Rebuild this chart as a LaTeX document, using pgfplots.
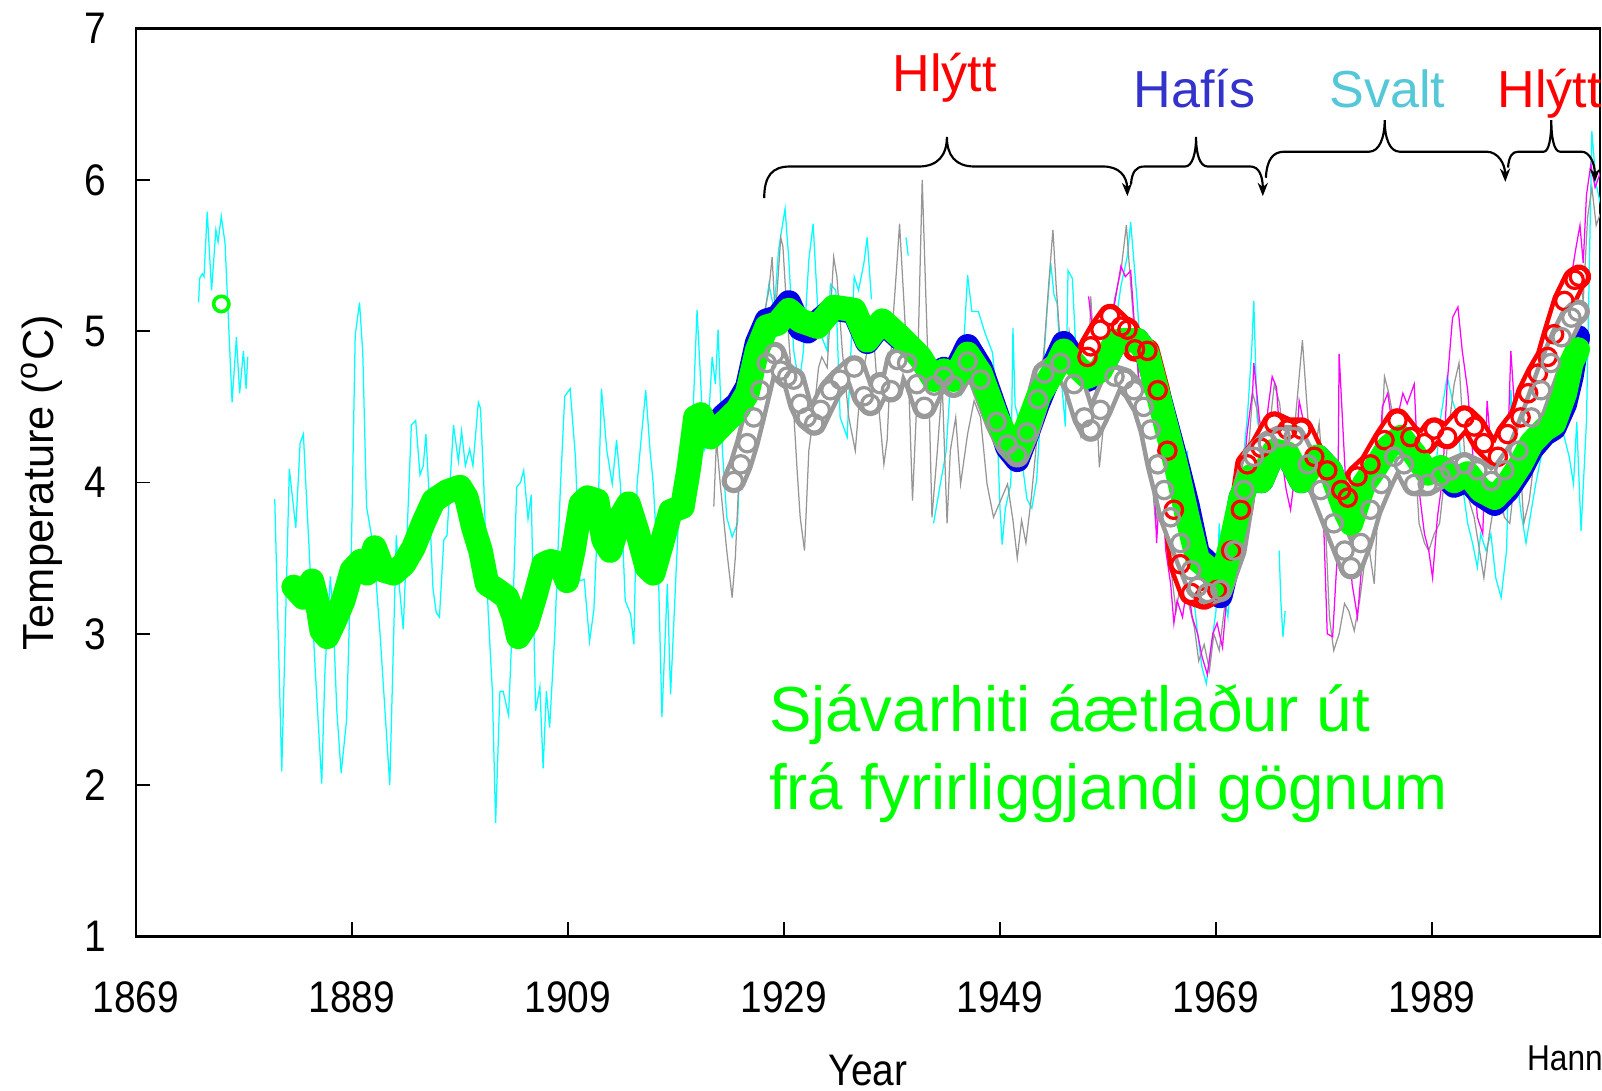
\documentclass[border=0pt]{standalone}
\usepackage{fontspec}
\setmainfont{Liberation Sans}
\newfontfamily\narrowfont{Liberation Sans}[FakeStretch=0.88]
\usepackage{pgfplots}
\usepackage{pgfplotstable}
\pgfplotsset{compat=1.18}
\usetikzlibrary{arrows.meta}

\definecolor{cy}{RGB}{0,255,255}
\definecolor{gl}{RGB}{150,150,150}
\definecolor{mg}{RGB}{255,0,255}
\definecolor{bl}{RGB}{0,0,230}
\definecolor{gc}{RGB}{153,153,153}
\definecolor{rd}{RGB}{255,0,0}
\definecolor{gr}{RGB}{0,255,0}
\definecolor{haf}{RGB}{51,51,204}
\definecolor{sva}{RGB}{85,200,216}

% thin lines
\pgfplotstableread{
x y
1874.8 5.19
1874.9 5.35
1875.15 5.38
1875.3 5.36
1875.6 5.79
1876.0 5.27
1876.4 5.67
1876.6 5.59
1876.9 5.76
1877.25 5.58
1877.9 4.53
1878.3 4.96
1878.6 4.59
1878.95 4.87
1879.2 4.62
1879.35 4.83
1880 nan
1881.85 3.89
1882.5 2.09
1883.2 4.09
1883.8 3.70
1884.2 4.26
1884.5 4.32
1884.8 3.89
1885.6 2.76
1886.2 2.01
1886.5 2.76
1887.0 3.38
1887.3 3.03
1887.6 2.49
1888.0 2.08
1888.5 2.43
1888.95 3.57
1889.3 4.97
1889.7 5.19
1890.0 4.86
1890.35 3.84
1891.0 3.57
1891.6 3.0
1892.5 2.0
1893.1 3.65
1893.4 3.30
1893.75 3.03
1894.05 3.57
1894.5 4.38
1894.9 4.41
1895.3 4.05
1895.6 4.11
1895.85 4.32
1896.1 3.97
1896.5 3.30
1896.8 3.14
1897.1 3.11
1897.5 3.62
1897.8 3.65
1898.4 4.38
1898.85 4.14
1899.15 4.34
1899.5 4.11
1899.9 4.22
1900.2 4.11
1900.7 4.53
1900.9 4.49
1901.2 4.0
1901.6 3.16
1902.0 2.62
1902.3 1.75
1902.7 2.62
1903.0 2.62
1903.5 2.46
1903.9 3.16
1904.25 3.97
1904.6 4.0
1904.9 4.08
1905.3 3.76
1905.6 3.92
1906.0 2.49
1906.4 2.65
1906.7 2.11
1907.0 2.62
1907.3 2.38
1907.8 3.03
1908.3 3.97
1908.7 4.57
1909.2 4.62
1909.7 4.16
1910.1 3.35
1910.5 3.36
1911.0 2.95
1911.4 3.16
1911.8 3.84
1912.1 4.62
1912.6 4.21
1913.1 3.99
1913.5 4.28
1913.85 3.99
1914.3 3.22
1914.8 3.13
1915.1 2.93
1915.4 3.99
1915.7 4.23
1916.2 4.61
1916.6 4.21
1916.9 3.99
1917.4 3.33
1917.7 2.45
1918.2 3.33
1918.5 2.6
1919.1 3.55
1919.6 4.32
1920.0 4.21
1920.5 4.32
1920.95 5.14
1921.3 4.65
1921.6 4.21
1921.9 4.26
1922.35 4.83
1922.65 4.65
1922.9 5.01
1923.3 4.21
1923.7 3.77
1924.2 3.64
1924.7 3.73
1925.0 4.30
1925.3 4.65
1925.7 4.79
1926.2 5.01
1926.7 4.76
1927.1 5.05
1927.6 5.31
1928.1 5.14
1928.5 5.54
1929.1 5.81
1929.45 5.47
1929.9 4.87
1930.4 4.65
1930.8 4.87
1931.3 5.47
1931.7 5.71
1932.1 5.18
1932.5 4.96
1933.0 4.87
1933.3 5.31
1933.8 5.27
1934.2 4.43
1934.85 4.30
1935.5 5.36
1935.9 5.27
1936.4 5.45
1936.7 5.62
1937.1 5.21
1937.5 nan
1940.3 5.62
1940.5 5.5
1940.7 nan
1942.85 3.73
1943.5 4.0
1944.0 4.2
1944.4 4.64
1944.9 4.80
1945.4 4.6
1946.0 5.37
1946.4 5.13
1947.0 5.13
1947.6 4.99
1948.3 4.86
1948.6 4.64
1949.0 3.83
1949.2 3.59
1949.5 3.83
1950.0 3.99
1950.2 5.02
1950.4 4.51
1950.9 4.37
1951.2 4.05
1951.5 3.89
1951.95 3.83
1952.4 4.02
1952.9 4.64
1953.35 5.13
1953.7 5.45
1954.0 5.24
1954.3 5.18
1954.6 4.75
1955.05 4.37
1955.3 5.40
1955.7 5.35
1956.0 4.91
1956.4 4.54
1956.75 4.32
1957.05 4.64
1957.5 5.05
1958.0 4.91
1958.45 4.51
1959.0 4.8
1959.6 5.0
1960.2 5.3
1960.8 5.5
1961.1 5.72
1961.7 5.20
1962.2 4.65
1962.65 4.32
1963.3 4.43
1963.9 3.99
1964.35 3.77
1964.65 4.26
1965.0 3.60
1965.4 3.99
1965.9 3.55
1966.35 4.21
1966.8 3.33
1967.3 3.0
1967.7 2.78
1968.1 2.67
1968.5 2.89
1969.0 3.15
1969.3 3.73
1969.6 3.33
1970.1 3.11
1970.5 3.55
1971.0 3.77
1971.45 4.10
1971.9 4.43
1972.3 4.87
1972.5 5.20
1972.8 4.43
1973.3 4.21
1973.8 3.99
1974.2 nan
1974.85 3.55
1975.0 3.22
1975.2 2.98
1975.4 3.15
1975.6 nan
1989.2 3.99
1989.8 4.43
1990.4 4.70
1990.9 4.54
1991.4 4.43
1991.8 3.99
1992.3 3.73
1992.75 3.60
1993.2 3.44
1993.5 3.66
1994.0 3.55
1994.45 3.66
1994.9 3.37
1995.4 3.24
1995.9 3.55
1996.3 4.61
1996.8 4.10
1997.2 3.82
1997.7 3.60
1998.2 3.82
1998.6 3.99
1999.1 4.17
1999.7 4.32
2000.3 4.54
2000.8 4.39
2001.25 4.30
2001.7 4.17
2002.1 3.99
2002.4 4.4
2002.8 3.68
2003.3 4.4
2003.8 6.32
2004.2 5.97
2004.6 5.84
}\cyanline

\pgfplotstableread{
x y
1922.5 3.84
1922.75 4.28
1923.1 3.99
1923.4 3.77
1923.7 3.55
1924.2 3.24
1924.5 3.51
1924.8 3.99
1925.3 4.26
1925.9 4.48
1926.5 4.65
1927.1 5.09
1927.6 5.27
1927.9 5.49
1928.2 5.09
1928.7 5.62
1928.9 5.56
1929.3 5.09
1929.75 4.65
1930.2 4.10
1930.5 3.77
1930.9 3.55
1931.3 4.21
1931.8 4.48
1932.2 4.76
1932.5 4.83
1933.0 4.76
1933.6 5.49
1933.9 5.36
1934.4 4.87
1935.0 4.43
1935.6 4.21
1936.1 4.65
1936.7 4.87
1937.3 4.96
1937.8 4.48
1938.25 4.12
1938.55 4.28
1939.0 4.98
1939.5 5.49
1939.7 5.71
1940.1 5.20
1940.6 4.54
1940.9 3.88
1941.3 4.54
1941.6 5.42
1941.8 6.0
1942.1 5.31
1942.4 4.65
1942.7 3.77
1943.2 4.21
1943.65 4.65
1944.1 3.73
1944.4 4.21
1944.9 4.43
1945.35 3.99
1946.0 4.32
1946.6 4.54
1947.2 4.43
1947.8 3.99
1948.4 3.77
1949.05 3.88
1949.7 3.99
1950.2 3.75
1950.6 3.5
1951.0 3.75
1951.4 3.6
1951.9 3.9
1952.3 4.2
1952.7 4.6
1953.1 4.9
1953.5 5.3
1953.9 5.67
1954.2 5.3
1954.6 4.9
1955.0 4.6
1955.4 5.0
1955.8 4.8
1956.2 4.4
1956.5 4.30
1957.1 4.43
1957.4 5.23
1957.7 4.87
1958.2 4.10
1958.6 4.39
1959.1 4.87
1959.6 5.21
1960.2 5.40
1960.7 5.70
1961.1 5.31
1961.6 4.87
1962.0 4.54
1962.5 4.26
1963.0 4.10
1963.4 3.73
1963.9 3.99
1964.3 3.73
1964.8 3.44
1965.3 3.15
1965.7 3.33
1966.4 3.22
1967.0 3.04
1967.4 2.82
1967.9 2.93
1968.4 2.76
1968.8 3.0
1969.3 2.89
1969.75 3.15
1970.2 3.42
1970.7 3.66
1971.2 3.95
1971.6 3.99
1972.1 4.30
1972.4 4.59
1972.8 4.48
1973.3 4.19
1973.8 4.26
1974.4 4.65
1974.9 4.52
1975.3 4.21
1975.8 4.04
1976.2 4.30
1976.7 4.70
1977.0 4.94
1977.5 4.43
1978.1 4.17
1978.55 4.39
1979.0 3.95
1979.5 3.11
1979.9 2.89
1980.4 3.0
1980.9 3.20
1981.3 3.15
1981.8 3.02
1982.3 3.22
1982.7 3.44
1983.2 3.55
1983.65 3.33
1984.1 3.99
1984.6 4.70
1985.0 4.59
1985.5 4.39
1986.0 4.10
1986.4 4.21
1986.9 4.39
1987.35 4.26
1987.8 3.73
1988.3 3.60
1988.7 3.55
1989.2 3.66
1989.7 3.73
1990.1 3.99
1990.6 4.39
1991.05 4.65
1991.5 4.79
1992.0 4.21
1992.45 3.88
1992.9 3.77
1993.4 3.55
1993.8 3.37
1994.3 3.66
1994.8 3.88
1995.2 3.95
1995.7 3.77
1996.2 3.73
1996.6 3.99
1997.1 4.21
1997.5 3.73
1998.0 3.88
1998.5 4.17
1998.9 4.43
1999.4 4.65
1999.9 4.98
2000.3 4.65
2000.8 5.09
2001.3 5.20
2001.7 4.98
2002.2 5.27
2002.6 5.40
2003.0 5.2
2003.4 5.75
2003.8 5.95
2004.2 5.7
2004.7 5.8
}\grayline

\pgfplotstableread{
x y
1957.2 5.23
1957.5 5.05
1957.9 4.81
1958.3 4.87
1958.9 5.09
1959.6 5.18
1960.2 5.43
1960.6 5.36
1961.1 5.40
1961.4 5.09
1961.9 4.65
1962.3 4.32
1962.8 4.26
1963.3 3.99
1963.5 3.60
1963.9 4.10
1964.35 3.55
1964.8 3.33
1965.1 3.07
1965.4 3.22
1965.9 3.11
1966.35 3.33
1966.8 3.11
1967.3 3.0
1967.7 2.85
1968.2 2.73
1968.7 3.0
1969.1 3.07
1969.6 2.91
1970.1 3.33
1970.5 3.55
1971.0 3.88
1971.45 3.99
1971.9 4.34
1972.4 4.61
1972.5 4.79
1973.0 4.43
1973.5 4.21
1973.8 4.48
1974.2 4.70
1974.6 4.63
1975.0 4.21
1975.5 3.95
1975.9 3.82
1976.2 3.99
1976.7 4.54
1977.2 4.37
1977.8 4.17
1978.1 4.32
1978.55 4.21
1979.0 3.66
1979.3 3.0
1979.8 2.98
1980.25 3.55
1980.4 4.85
1980.7 4.43
1981.2 3.73
1981.6 3.33
1982.1 3.11
1982.6 3.55
1983.0 3.77
1983.5 3.66
1984.0 3.99
1984.4 4.50
1984.9 4.59
1985.3 4.39
1985.8 4.43
1986.3 4.59
1986.7 4.52
1987.35 4.65
1987.8 3.95
1988.3 3.66
1988.7 3.55
1989.05 3.37
1989.5 3.77
1990.0 4.04
1990.4 4.65
1990.9 5.09
1991.4 5.16
1991.8 4.87
1992.3 4.61
1992.75 4.21
1993.2 3.77
1993.7 3.66
1994.1 4.54
1994.6 4.10
1995.1 3.99
1995.5 3.82
1996.0 4.21
1996.3 4.87
1996.8 4.32
1997.2 3.99
1997.7 4.32
1998.2 4.61
1998.6 4.43
1999.1 4.61
1999.55 4.87
2000.0 4.98
2000.5 4.83
2000.9 5.32
2001.4 5.05
2001.9 5.36
2002.3 5.54
2002.7 5.7
2003.0 5.45
2003.3 5.9
2003.7 6.1
2004.1 5.95
2004.6 6.05
}\magline

% smoothed series (circles)
\pgfplotstableread{
x y
1922.2 4.34
1923.4 4.44
1924.7 4.52
1925.6 4.63
1926.5 4.92
1927.4 5.07
1928.4 5.09
1929.45 5.19
1930.5 5.02
1931.2 5.00
1932.1 5.06
1933.6 5.15
1935.5 5.13
1936.7 4.93
1938.1 5.06
1939.8 4.95
1941.6 4.82
1942.9 4.67
1943.8 4.75
1944.7 4.71
1946.0 4.90
1947.2 4.76
1948.7 4.45
1949.7 4.23
1950.6 4.15
1951.5 4.32
1952.5 4.52
1954.0 4.78
1954.9 4.92
1956.2 4.78
1957.1 4.68
1958.3 4.74
1959.6 4.92
1960.2 4.94
1961.7 4.94
1962.65 4.85
1963.6 4.60
1964.5 4.36
1965.4 4.12
1966.35 3.85
1967.3 3.53
1968.5 3.45
1969.4 3.25
1970.4 3.55
1971.3 3.90
1972.2 4.04
1973.2 4.01
1974.4 4.21
1975.6 4.19
1976.9 4.01
1978.4 4.17
1979.6 4.08
1980.9 3.82
1981.5 3.73
1982.7 3.99
1983.6 4.08
1984.9 4.23
1986.1 4.30
1987.35 4.19
1988.6 4.05
1989.8 4.08
1991.05 3.98
1992.3 4.02
1993.5 3.92
1994.8 3.86
1996.0 3.95
1997.2 4.08
1998.2 4.22
1999.4 4.32
2000.3 4.36
2001.3 4.52
2001.9 4.70
2002.5 4.96
}\bluecirc

\pgfplotstableread{
x y
1924.35 4.01
1925.0 4.12
1925.6 4.26
1926.2 4.43
1926.8 4.61
1927.4 4.79
1928.1 4.85
1928.7 4.74
1929.3 4.70
1929.9 4.68
1930.5 4.52
1931.1 4.43
1931.8 4.39
1932.4 4.48
1933.3 4.61
1934.2 4.68
1935.5 4.76
1936.4 4.57
1937.0 4.52
1937.9 4.65
1938.9 4.61
1939.5 4.81
1940.4 4.79
1941.3 4.65
1942.0 4.50
1942.9 4.64
1943.8 4.70
1944.7 4.64
1946.0 4.80
1947.2 4.68
1948.7 4.40
1949.7 4.25
1950.6 4.18
1951.5 4.33
1952.5 4.55
1953.1 4.72
1954.6 4.79
1955.85 4.65
1956.8 4.43
1957.4 4.35
1958.3 4.48
1959.6 4.70
1960.5 4.68
1961.4 4.61
1962.3 4.50
1962.95 4.35
1963.6 4.12
1964.2 3.95
1964.8 3.77
1965.7 3.60
1966.7 3.42
1967.3 3.31
1968.2 3.27
1969.4 3.29
1970.7 3.55
1971.6 3.95
1972.5 4.17
1973.8 4.26
1975.0 4.30
1976.2 4.30
1977.5 4.12
1978.7 3.95
1979.9 3.73
1980.9 3.55
1981.5 3.44
1982.4 3.60
1983.3 3.82
1984.3 3.99
1985.5 4.17
1986.4 4.12
1987.35 3.99
1988.6 3.99
1989.8 4.04
1990.7 4.08
1992.0 4.12
1993.2 4.08
1994.5 4.01
1995.7 4.08
1997.0 4.21
1998.2 4.43
1999.1 4.61
2000.0 4.79
2001.0 4.96
2001.9 5.09
2002.5 5.13
}\graycirc

\pgfplotstableread{
x y
1957.1 4.83
1957.4 4.90
1958.3 5.01
1959.2 5.10
1960.2 5.03
1960.8 5.01
1961.5 4.88
1962.65 4.87
1963.6 4.61
1964.5 4.21
1965.1 3.82
1965.7 3.46
1966.7 3.27
1967.9 3.24
1969.1 3.29
1970.4 3.55
1971.3 3.82
1971.9 4.12
1973.15 4.23
1974.4 4.39
1975.6 4.35
1976.9 4.35
1978.1 4.17
1979.3 4.08
1980.6 3.95
1981.2 3.90
1982.1 4.04
1983.3 4.12
1984.6 4.28
1985.8 4.41
1987.0 4.30
1988.3 4.26
1989.2 4.35
1990.4 4.30
1992.0 4.43
1992.9 4.37
1993.8 4.26
1995.1 4.17
1996.0 4.32
1997.2 4.43
1997.9 4.59
1998.8 4.72
1999.7 4.83
2000.3 4.98
2001.25 5.20
2002.2 5.34
2002.6 5.36
}\redcirc

\pgfplotstableread{
x y
1883.6 3.31
1884.5 3.24
1885.3 3.35
1885.75 3.22
1886.2 3.02
1886.7 2.98
1887.3 3.07
1888.2 3.22
1889.0 3.42
1889.8 3.48
1890.4 3.40
1891.1 3.57
1891.9 3.42
1892.85 3.40
1893.8 3.46
1894.7 3.57
1895.6 3.73
1896.55 3.88
1897.8 3.94
1899.0 3.97
1899.6 3.90
1900.25 3.70
1900.9 3.55
1901.5 3.33
1902.4 3.29
1903.35 3.24
1904.0 3.11
1904.4 2.98
1905.2 3.07
1906.0 3.26
1906.75 3.46
1907.4 3.48
1908.3 3.46
1908.9 3.35
1909.5 3.55
1910.2 3.86
1910.8 3.90
1911.7 3.88
1912.3 3.62
1912.9 3.55
1913.85 3.77
1914.6 3.86
1915.4 3.68
1916.3 3.44
1916.9 3.40
1917.7 3.60
1918.5 3.81
1919.6 3.84
1920.2 4.10
1920.8 4.43
1921.3 4.45
1922.2 4.30
1923.4 4.39
1924.7 4.48
1925.6 4.59
1926.5 4.87
1927.4 5.03
1928.4 5.05
1929.45 5.14
1930.5 5.07
1932.1 5.03
1933.6 5.16
1935.5 5.14
1936.7 4.94
1938.1 5.07
1939.8 4.96
1941.6 4.83
1942.9 4.68
1943.8 4.74
1944.7 4.68
1946.0 4.85
1947.2 4.72
1948.7 4.43
1949.7 4.28
1950.6 4.21
1951.5 4.37
1952.5 4.56
1954.0 4.74
1954.9 4.87
1956.2 4.76
1957.1 4.70
1958.3 4.74
1959.6 4.92
1960.2 4.94
1961.7 4.94
1962.65 4.85
1963.6 4.59
1964.5 4.34
1965.4 4.08
1966.35 3.77
1967.3 3.49
1968.5 3.42
1969.4 3.31
1970.4 3.60
1971.3 3.90
1972.2 4.04
1973.2 4.01
1974.4 4.21
1975.6 4.19
1976.9 4.01
1978.4 4.17
1979.6 4.08
1980.9 3.82
1981.5 3.73
1982.7 3.99
1983.6 4.08
1984.9 4.23
1986.1 4.30
1987.35 4.19
1988.6 4.06
1989.8 4.10
1991.05 4.01
1992.3 4.06
1993.5 3.95
1994.8 3.90
1996.0 3.99
1997.2 4.12
1998.2 4.26
1999.4 4.35
2000.3 4.39
2001.3 4.59
2001.9 4.79
2002.5 4.88
}\greencirc

\begin{document}
\begin{tikzpicture}
\begin{axis}[
  at={(0,0)}, anchor=south west,
  scale only axis,
  width=14.32cm, height=8.88cm,
  xmin=1869, xmax=2004.54,
  ymin=1, ymax=7,
  xtick={1869,1889,1909,1929,1949,1969,1989},
  ytick={1,2,3,4,5,6,7},
  tick align=inside, tick pos=left,
  major tick length=0.14cm,
  every tick/.style={black, line width=0.45pt},
  axis line style={line width=0.75pt},
  /pgf/number format/1000 sep={},
  /pgf/number format/assume math mode=true,
  tick label style={font=\narrowfont\fontsize{12.3}{14}\selectfont},
  xticklabel style={yshift=-0.32cm},
  yticklabel style={xshift=-0.17cm},
  xlabel={Year},
  xlabel style={font=\narrowfont\fontsize{12.3}{14}\selectfont, at={(axis description cs:0.5,-0.1644)}, anchor=base},
  ylabel={Temperature (\textsuperscript{o}C)},
  ylabel style={font=\fontsize{12.1}{14}\selectfont, at={(axis description cs:-0.0642,0.5)}, anchor=center},
  unbounded coords=jump,
]
% raw series
\addplot[cy, line width=0.35pt, mark=none] table {\cyanline};
\addplot[gl, line width=0.35pt, mark=none] table {\grayline};
\addplot[mg, line width=0.35pt, mark=none] table {\magline};
% blue filled circles
\addplot[bl, line width=0.24cm, line join=round, line cap=round, mark=none] table {\bluecirc};
% red open circles
\addplot[rd, line width=0.24cm, line join=round, line cap=round, mark=none] table {\redcirc};
\addplot[white, line width=0.15cm, line join=round, line cap=round, mark=none] table {\redcirc};
\addplot[rd, only marks, mark=o, mark size=0.085cm, mark options={line width=0.9pt}] table {\redcirc};
% gray open circles
\addplot[gc, line width=0.24cm, line join=round, line cap=round, mark=none] table {\graycirc};
\addplot[white, line width=0.15cm, line join=round, line cap=round, mark=none] table {\graycirc};
\addplot[gc, only marks, mark=o, mark size=0.085cm, mark options={line width=0.9pt}] table {\graycirc};
% green estimate
\addplot[gr, line width=0.24cm, line join=round, line cap=round, mark=none] table {\greencirc};
\addplot[gr, only marks, mark=o, mark size=0.075cm, mark options={line width=1pt}] coordinates {(1876.9,5.18)};
\end{axis}

\begin{scope}[shift={(-1.33cm,9.16cm)}, x=0.01cm, y=-0.01cm]
  % braces
  \draw[line width=0.6pt, -{Stealth[length=0.13cm,width=0.1cm]}]
    (748,194) .. controls (748,172) and (756,163) .. (773,163) -- (899,163)
    .. controls (918,163) and (926.8,152) .. (926.8,134)
    .. controls (926.8,152) and (935,163) .. (954,163) -- (1080,163)
    .. controls (1095,163) and (1103,172) .. (1103.5,192);
  \draw[line width=0.6pt, -{Stealth[length=0.13cm,width=0.1cm]}]
    (1107,180) .. controls (1108,168) and (1112,163) .. (1120,163) -- (1160,163)
    .. controls (1167,163) and (1170.7,150) .. (1170.7,134)
    .. controls (1170.7,150) and (1174,163) .. (1182,163) -- (1224,163)
    .. controls (1232,163) and (1236,172) .. (1236,192);
  \draw[line width=0.6pt, -{Stealth[length=0.13cm,width=0.1cm]}]
    (1239,174) .. controls (1240,156) and (1246,148.5) .. (1257,148.5) -- (1340,148.5)
    .. controls (1350,148.5) and (1355.3,135) .. (1355.3,117.5)
    .. controls (1355.3,135) and (1360,148.5) .. (1370,148.5) -- (1455,148.5)
    .. controls (1466,148.5) and (1473,160) .. (1473.4,178);
  \draw[line width=0.6pt, -{Stealth[length=0.13cm,width=0.1cm]}]
    (1476,164) .. controls (1477,153) and (1480,148.5) .. (1486,148.5) -- (1511,148.5)
    .. controls (1516,148.5) and (1518.4,135) .. (1518.4,117.5)
    .. controls (1518.4,135) and (1521,148.5) .. (1527,148.5) -- (1548,148.5)
    .. controls (1556,148.5) and (1561,160) .. (1561,178);
  % period labels
  \node[anchor=base, inner sep=0, text=rd, font=\fontsize{14.5}{16}\selectfont] at (924.6,90) {Hlýtt};
  \node[anchor=base, inner sep=0, text=haf, font=\fontsize{14.5}{16}\selectfont] at (1169,105) {Hafís};
  \node[anchor=base, inner sep=0, text=sva, font=\fontsize{14.5}{16}\selectfont] at (1358,105) {Svalt};
  \node[anchor=base west, inner sep=0, text=rd, font=\fontsize{14.5}{16}\selectfont] at (1465,105) {Hlýtt};
  % green text
  \node[anchor=base west, inner sep=0, text=gr, font=\fontsize{17.7}{21}\selectfont] at (752,716) {Sjávarhiti áætlaður út};
  \node[anchor=base west, inner sep=0, text=gr, font=\fontsize{17.7}{21}\selectfont] at (752,792) {frá fyrirliggjandi gögnum};
  \node[anchor=base west, inner sep=0, font=\narrowfont\fontsize{10}{12}\selectfont] at (1494,1048) {Hann};
  \pgfresetboundingbox
  \path[use as bounding box] (0,0) rectangle (1568,1067);
\end{scope}
\end{tikzpicture}
\end{document}
